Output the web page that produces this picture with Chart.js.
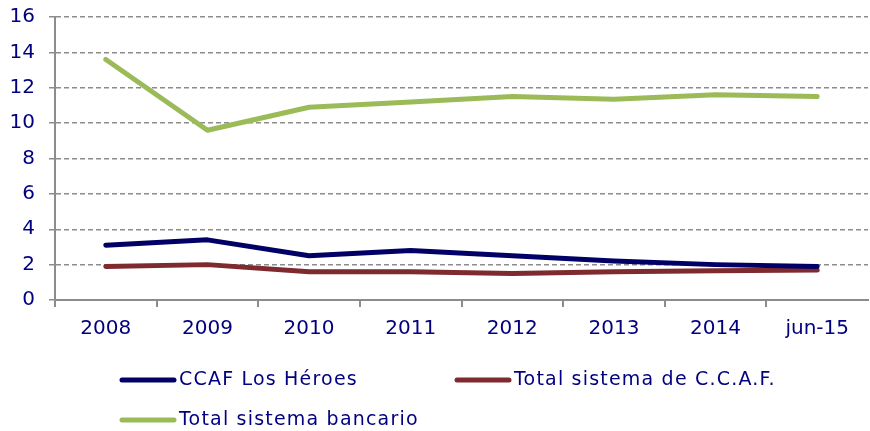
<!DOCTYPE html>
<html>
<head>
<meta charset="utf-8">
<script src="https://cdn.jsdelivr.net/npm/chart.js@4/dist/chart.umd.min.js"></script>
<style>
  html, body { margin: 0; padding: 0; background: #fff; }
  #wrap { width: 870px; height: 431px; position: relative; }
</style>
</head>
<body>
<div id="wrap"><canvas id="c"></canvas></div>
<script>
// ---- Data ------------------------------------------------------------------
const categories = ["2008", "2009", "2010", "2011", "2012", "2013", "2014", "jun-15"];
const losHeroes = [3.1, 3.4, 2.5, 2.8, 2.5, 2.2, 2.0, 1.9];
const totalCCAF = [1.9, 2.0, 1.6, 1.6, 1.5, 1.6, 1.65, 1.7];
const totalBancario = [13.6, 9.6, 10.9, 11.2, 11.5, 11.35, 11.6, 11.5];
const yTicks = [0, 2, 4, 6, 8, 10, 12, 14, 16];

const seriesNames = ["CCAF Los Héroes", "Total sistema de C.C.A.F.", "Total sistema bancario"];
const seriesColors = ["#000066", "#7f2a2e", "#9bbb59"];

const FONT = "'DejaVu Sans', Verdana, sans-serif";
const TEXT = "#000080";
const AXIS = "#8c8c8c";

// legend drawn by hand so the two-column layout matches the original
const legendSlots = [[120, 380], [455, 380], [120, 420]];
const bottomLegend = {
  id: "bottomLegend",
  afterDraw(chart) {
    const ctx = chart.ctx;
    ctx.save();
    ctx.font = "19px " + FONT;
    ctx.letterSpacing = "1.2px";
    ctx.textBaseline = "middle";
    chart.data.datasets.forEach((ds, i) => {
      const [x, y] = legendSlots[i];
      ctx.strokeStyle = ds.borderColor;
      ctx.lineWidth = 5;
      ctx.lineCap = "round";
      ctx.beginPath();
      ctx.moveTo(x + 2, y);
      ctx.lineTo(x + 54, y);
      ctx.stroke();
      ctx.fillStyle = TEXT;
      ctx.fillText(ds.label, x + 59, y);
    });
    ctx.restore();
  }
};

const mk = (i, data) => ({
  label: seriesNames[i],
  data,
  borderColor: seriesColors[i],
  backgroundColor: seriesColors[i],
  borderWidth: 5,
  pointRadius: 0,
  tension: 0,
  borderCapStyle: "round",
  borderJoinStyle: "round"
});

// the closing grid line after the last category gets no tick in its context
const hasTick = (c) => !!c.tick;

new Chart(document.getElementById("c"), {
  type: "line",
  data: {
    labels: categories,
    datasets: [mk(0, losHeroes), mk(1, totalCCAF), mk(2, totalBancario)]
  },
  options: {
    responsive: true,
    maintainAspectRatio: false,
    animation: false,
    layout: { padding: { top: 17, right: 2, bottom: 91, left: 0 } },
    plugins: { legend: { display: false }, tooltip: { enabled: false } },
    scales: {
      x: {
        offset: true,
        grid: {
          offset: true, drawOnChartArea: false, drawTicks: true, tickLength: 7,
          lineWidth: (c) => hasTick(c) ? 2 : 0,
          color: (c) => hasTick(c) ? AXIS : "rgba(0,0,0,0)",
          tickWidth: (c) => hasTick(c) ? 2 : 0,
          tickColor: (c) => hasTick(c) ? AXIS : "rgba(0,0,0,0)"
        },
        border: { display: true, color: AXIS, width: 2 },
        ticks: { color: TEXT, font: { family: FONT, size: 20 }, padding: 10, maxRotation: 0, autoSkip: false },
        afterFit: (s) => { s.height = 40; s.paddingLeft = 0; s.paddingRight = 0; }
      },
      y: {
        min: 0,
        max: 16,
        afterBuildTicks: (s) => { s.ticks = yTicks.map(v => ({ value: v })); },
        grid: { color: AXIS, lineWidth: 1.5, tickLength: 6, tickBorderDash: [0], drawTicks: true },
        border: { display: true, color: AXIS, width: 2, dash: [5, 3] },
        ticks: { color: TEXT, font: { family: FONT, size: 20 }, padding: 14 },
        afterFit: (s) => { s.width = 55; s.paddingTop = 0; s.paddingBottom = 0; }
      }
    }
  },
  plugins: [bottomLegend]
});
</script>
</body>
</html>
